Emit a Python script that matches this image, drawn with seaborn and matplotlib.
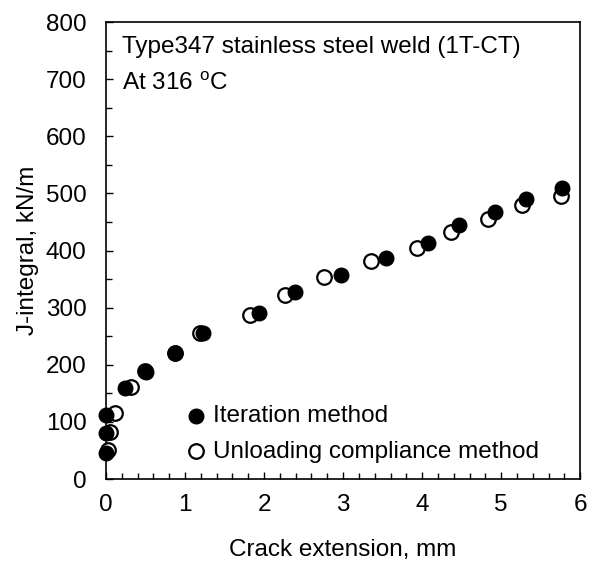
import numpy as np
import pandas as pd
import matplotlib
matplotlib.use("Agg")
import matplotlib.pyplot as plt
from matplotlib.ticker import MultipleLocator
import seaborn as sns

# Datos (extensión de grieta en mm, integral J en kN/m)
iter_x = [0, 0, 0, 0.24, 0.51, 0.87, 1.23, 1.94, 2.39, 2.97, 3.54, 4.08, 4.47, 4.92, 5.31, 5.77]
iter_j = [45, 80, 112, 159, 188, 220, 255, 290, 327, 358, 387, 414, 444, 467, 490, 509]
unl_x = [0.03, 0.05, 0.11, 0.32, 0.49, 0.87, 1.19, 1.82, 2.26, 2.76, 3.35, 3.93, 4.36, 4.84, 5.27, 5.76]
unl_j = [51, 83, 115, 161, 190, 220, 255, 287, 323, 354, 381, 404, 433, 455, 479, 496]

labels = ["Iteration method", "Unloading compliance method"]
x_ticks = [0, 1, 2, 3, 4, 5, 6]
y_ticks = [0, 100, 200, 300, 400, 500, 600, 700, 800]

FS = 17.5

sns.set_theme(style="ticks")
plt.rcParams["font.family"] = ["Liberation Sans", "DejaVu Sans"]
plt.rcParams["mathtext.fontset"] = "custom"
plt.rcParams["mathtext.rm"] = "Liberation Sans"
plt.rcParams["text.color"] = "black"
plt.rcParams["axes.labelcolor"] = "black"

fig = plt.figure(figsize=(5.89, 5.67), dpi=100)
ax = fig.add_axes([0.18, 0.155, 0.805, 0.806])

df_iter = pd.DataFrame({"x": iter_x, "J": iter_j})
df_unl = pd.DataFrame({"x": unl_x, "J": unl_j})

sns.scatterplot(data=df_unl, x="x", y="J", ax=ax, s=110, color="white",
                edgecolor="black", linewidth=1.6, label=labels[1], zorder=3,
                clip_on=False)
sns.scatterplot(data=df_iter, x="x", y="J", ax=ax, s=110, color="black",
                edgecolor="black", linewidth=1.0, label=labels[0], zorder=4,
                clip_on=False)

ax.set_xlim(0, 6)
ax.set_ylim(0, 800)
ax.set_xticks(x_ticks)
ax.set_yticks(y_ticks)
ax.xaxis.set_minor_locator(MultipleLocator(0.2))
ax.yaxis.set_minor_locator(MultipleLocator(50))
ax.tick_params(which="both", direction="in", labelsize=FS, colors="black",
               width=1.0, top=False, right=False)
ax.tick_params(which="major", length=5)
ax.tick_params(which="minor", length=4)
ax.tick_params(axis="x", pad=11)
ax.tick_params(axis="y", pad=14)
for sp in ax.spines.values():
    sp.set_visible(True)
    sp.set_linewidth(1.2)
    sp.set_color("black")

ax.set_xlabel("Crack extension, mm", fontsize=FS, labelpad=16, color="black")
ax.set_ylabel("J-integral, kN/m", fontsize=FS, labelpad=5, color="black")

ax.text(0.034, 0.945, "Type347 stainless steel weld (1T-CT)", transform=ax.transAxes,
        fontsize=FS, va="center", ha="left", color="black")
ax.text(0.034, 0.866, "At 316 $^{\\mathrm{o}}$C", transform=ax.transAxes,
        fontsize=FS, va="center", ha="left", color="black")

handles, lbls = ax.get_legend_handles_labels()
order = [lbls.index(labels[0]), lbls.index(labels[1])]
leg = ax.legend([handles[i] for i in order], [lbls[i] for i in order],
                loc="lower left", bbox_to_anchor=(0.143, 0.015), frameon=False,
                fontsize=FS, handlelength=1.0, handletextpad=0.2, labelspacing=0.55,
                borderaxespad=0)
for t in leg.get_texts():
    t.set_color("black")

fig.savefig("out.png", dpi=100)
